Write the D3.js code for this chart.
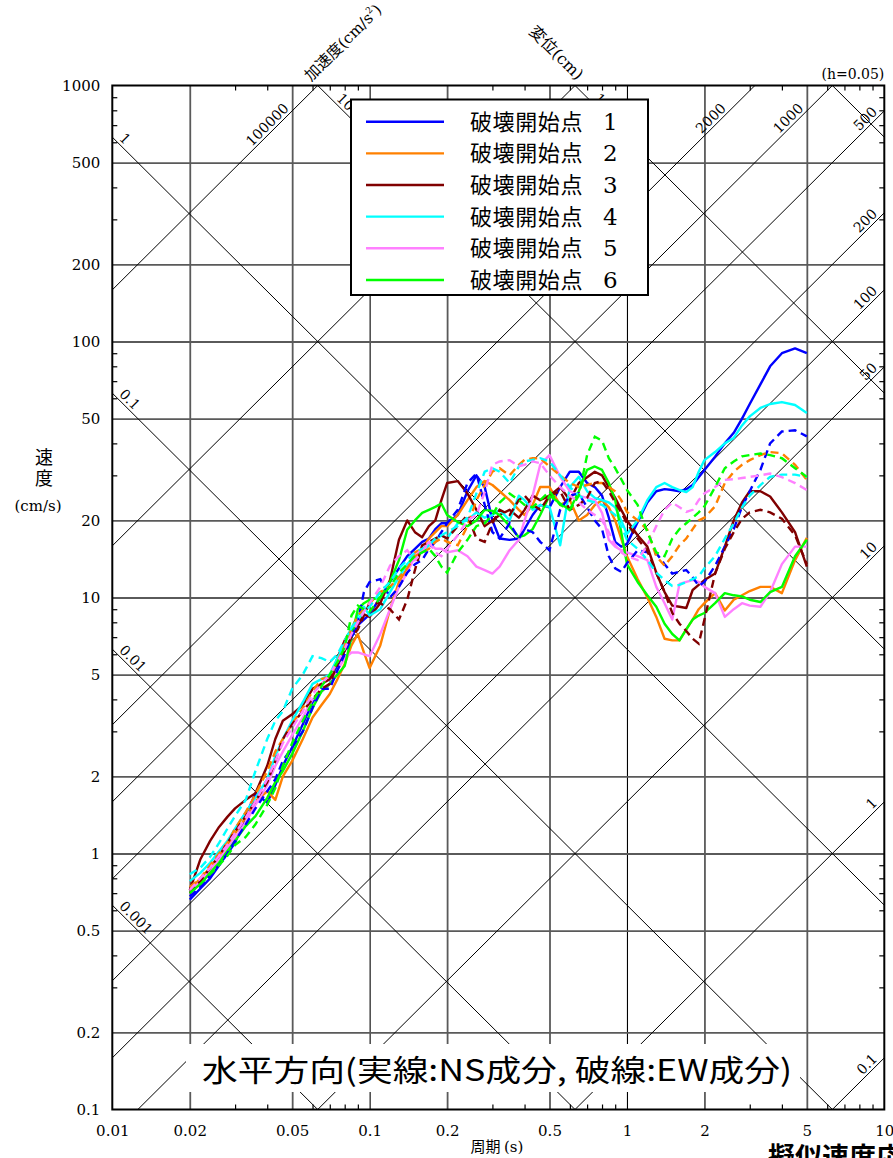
<!DOCTYPE html>
<html>
<head>
<meta charset="utf-8">
<script src="https://cdn.jsdelivr.net/npm/d3@7"></script>
<style>
  body { margin: 0; background: #fff; }
</style>
</head>
<body>
<svg id="chart"></svg>
<script>
// periods (s) shared by every series
var periods = [
  0.02, 0.022, 0.024, 0.026, 0.028, 0.03,
  0.033, 0.036, 0.04, 0.043, 0.046, 0.05,
  0.055, 0.06, 0.065, 0.07, 0.075, 0.08,
  0.085, 0.09, 0.095, 0.1, 0.11, 0.12,
  0.13, 0.14, 0.15, 0.16, 0.17, 0.18,
  0.19, 0.2, 0.22, 0.24, 0.26, 0.28,
  0.3, 0.32, 0.35, 0.38, 0.4, 0.43,
  0.46, 0.5, 0.55, 0.6, 0.65, 0.7,
  0.75, 0.8, 0.85, 0.9, 0.95, 1.0,
  1.1, 1.2, 1.3, 1.4, 1.5, 1.6,
  1.7, 1.8, 1.9, 2.0, 2.2, 2.4,
  2.6, 2.8, 3.0, 3.3, 3.6, 4.0,
  4.5, 5.0
];

// NS (solid) velocity, cm/s
var ns1 = [
  0.66, 0.73, 0.80, 0.90, 1.00, 1.10,
  1.40, 1.72, 1.58, 1.85, 2.20, 2.60,
  3.20, 3.90, 4.30, 4.60, 5.40, 6.20,
  7.00, 7.80, 8.20, 8.60, 10.0, 11.5,
  13.0, 14.5, 15.5, 16.5, 17.0, 18.5,
  19.5, 19.5, 21.0, 26.0, 30.0, 27.0,
  20.0, 17.0, 16.8, 17.0, 18.5, 21.0,
  23.0, 22.5, 27.0, 31.0, 31.0, 28.0,
  27.0, 25.0, 20.5, 16.5, 15.8, 16.2,
  19.7, 23.5, 26.0, 26.5, 26.3, 26.0,
  26.5, 27.5, 29.5, 31.5, 35.5, 40.0,
  44.0, 50.0, 57.0, 68.0, 80.0, 90.0,
  94.0, 90.0
];
var ns2 = [
  0.72, 0.80, 0.88, 0.98, 1.08, 1.20,
  1.38, 1.60, 1.75, 1.62, 2.00, 2.30,
  2.80, 3.40, 3.80, 4.20, 4.80, 5.50,
  6.50, 7.20, 6.10, 5.30, 6.50, 9.00,
  11.5, 13.0, 15.0, 15.5, 17.0, 18.0,
  19.0, 19.0, 21.0, 24.0, 27.0, 28.5,
  27.5, 26.0, 24.0, 22.0, 21.0, 23.0,
  27.0, 27.0, 23.0, 24.0, 20.0, 21.0,
  23.0, 24.0, 22.5, 20.0, 17.0, 14.5,
  11.8, 10.0, 8.40, 6.90, 6.80, 6.80,
  7.50, 8.20, 9.00, 9.50, 10.4, 8.90,
  9.80, 10.2, 10.6, 11.0, 11.0, 10.4,
  14.0, 17.1
];
var ns3 = [
  0.72, 0.95, 1.12, 1.27, 1.39, 1.50,
  1.62, 1.72, 2.20, 2.80, 3.30, 3.50,
  3.80, 4.40, 4.60, 4.80, 5.80, 6.80,
  7.50, 7.80, 8.60, 8.40, 9.50, 11.7,
  16.8, 20.0, 18.0, 17.2, 19.0, 20.0,
  24.0, 28.0, 28.5, 25.5, 22.0, 19.0,
  20.0, 21.0, 22.0, 20.5, 22.0, 25.0,
  24.0, 25.0, 27.0, 24.0, 28.0, 29.5,
  31.0, 30.0, 27.0, 24.5, 22.0, 20.0,
  17.5, 15.8, 12.5, 10.5, 9.30, 9.20,
  9.10, 10.7, 11.2, 11.7, 12.4, 15.8,
  20.0, 23.5, 26.0, 26.0, 24.8, 21.5,
  18.0, 13.2
];
var ns4 = [
  0.78, 0.84, 0.92, 1.02, 1.12, 1.25,
  1.45, 1.65, 1.95, 2.40, 2.80, 3.30,
  3.90, 4.60, 4.80, 5.00, 5.80, 6.60,
  7.60, 8.50, 9.20, 8.50, 9.00, 10.5,
  12.0, 13.5, 14.5, 15.0, 16.0, 16.8,
  17.5, 17.0, 19.5, 20.0, 21.5, 20.5,
  21.0, 22.0, 20.0, 25.0, 24.0, 22.0,
  23.0, 22.6, 16.0, 27.0, 29.6, 26.0,
  24.5, 24.0, 23.5, 22.5, 20.0, 17.7,
  20.0, 24.0, 27.0, 28.0, 27.0, 26.3,
  25.8, 27.0, 31.0, 34.4, 37.0, 40.0,
  42.0, 47.0, 51.0, 55.0, 57.0, 58.0,
  56.5, 52.6
];
var ns5 = [
  0.70, 0.78, 0.86, 0.95, 1.05, 1.15,
  1.32, 1.55, 1.85, 2.20, 2.50, 2.90,
  3.40, 4.00, 4.30, 4.60, 5.20, 5.80,
  6.10, 6.10, 6.00, 5.90, 7.20, 9.00,
  11.0, 12.5, 14.5, 15.5, 16.5, 15.5,
  15.5, 15.0, 15.3, 14.5, 13.2, 12.8,
  12.4, 13.2, 15.3, 16.8, 20.0, 25.0,
  33.0, 36.0, 29.6, 26.0, 25.0, 24.5,
  24.0, 21.4, 16.8, 15.8, 15.3, 15.0,
  14.5, 14.0, 11.0, 9.50, 8.20, 11.3,
  11.5, 11.7, 11.5, 11.0, 10.4, 8.40,
  9.00, 9.50, 9.30, 9.20, 10.5, 13.5,
  15.8, 15.8
];
var ns6 = [
  0.70, 0.76, 0.84, 0.92, 1.02, 1.12,
  1.28, 1.40, 1.65, 1.90, 2.10, 2.45,
  3.00, 3.70, 4.30, 4.60, 5.00, 5.40,
  7.00, 9.00, 9.50, 9.80, 10.0, 11.5,
  14.0, 18.4, 20.0, 21.4, 22.0, 22.6,
  23.3, 21.0, 19.7, 19.0, 20.0, 22.0,
  21.8, 21.0, 19.0, 17.2, 17.5, 18.5,
  21.0, 25.0, 23.3, 22.0, 26.0, 31.5,
  32.5, 31.5, 28.0, 24.0, 18.0, 13.5,
  11.5, 10.2, 9.20, 7.90, 7.20, 6.80,
  7.50, 8.20, 8.50, 8.70, 9.50, 10.4,
  10.2, 10.1, 9.80, 9.60, 10.5, 11.0,
  14.5, 16.8
];

// EW (dashed) velocity, cm/s
var ew1 = [
  0.68, 0.74, 0.82, 0.90, 1.00, 1.12,
  1.30, 1.50, 1.75, 1.95, 2.30, 2.60,
  3.00, 3.70, 4.40, 4.40, 5.20, 6.00,
  7.00, 8.00, 10.5, 11.5, 11.8, 10.0,
  11.0, 12.5, 13.5, 14.0, 15.5, 16.5,
  18.0, 19.5, 22.0, 28.0, 30.5, 23.0,
  18.0, 17.0, 19.5, 17.0, 18.5, 18.0,
  16.5, 15.3, 22.0, 25.0, 25.5, 22.5,
  20.0, 18.5, 14.5, 13.0, 12.6, 13.6,
  15.3, 15.0, 14.9, 13.5, 12.4, 12.6,
  12.8, 12.0, 11.1, 11.5, 13.3, 15.8,
  18.5, 22.6, 26.0, 31.5, 40.0, 44.5,
  45.0, 42.6
];
var ew2 = [
  0.74, 0.80, 0.90, 1.00, 1.10, 1.25,
  1.45, 1.70, 2.10, 2.50, 2.80, 3.20,
  3.70, 4.30, 4.80, 4.90, 5.60, 6.50,
  7.50, 8.50, 9.00, 9.50, 10.5, 11.0,
  12.0, 13.0, 14.5, 15.0, 15.5, 16.5,
  17.0, 16.5, 16.0, 19.0, 24.0, 27.5,
  31.0, 32.0, 30.0, 33.0, 34.5, 35.0,
  35.0, 32.5, 30.0, 28.0, 27.0, 27.5,
  28.0, 28.0, 27.0, 26.0, 24.0, 21.6,
  20.0, 18.4, 14.5, 13.3, 14.5, 16.0,
  17.0, 18.5, 20.0, 20.5, 22.7, 28.0,
  31.0, 33.0, 34.4, 36.0, 37.0, 36.6,
  33.0, 28.8
];
var ew3 = [
  0.70, 0.78, 0.88, 0.98, 1.10, 1.22,
  1.40, 1.60, 1.90, 2.30, 2.80, 3.20,
  3.60, 4.00, 4.40, 4.60, 5.50, 6.20,
  7.00, 7.50, 8.50, 9.50, 9.50, 9.00,
  8.20, 9.80, 12.8, 16.0, 16.5, 17.0,
  17.5, 17.0, 19.0, 21.0, 17.0, 16.5,
  19.5, 22.0, 21.0, 24.0, 25.0, 23.0,
  22.0, 25.0, 26.0, 22.0, 23.0, 24.5,
  28.0, 28.5, 26.0, 23.5, 21.5, 19.5,
  17.0, 15.2, 12.5, 10.5, 8.70, 7.90,
  7.40, 6.90, 6.60, 8.20, 12.4, 15.5,
  18.0, 20.3, 21.5, 22.0, 21.5, 20.3,
  17.5, 13.5
];
var ew4 = [
  0.83, 0.88, 0.97, 1.10, 1.25, 1.40,
  1.62, 2.10, 2.80, 3.30, 3.60, 4.40,
  5.00, 5.90, 5.80, 5.60, 6.00, 6.80,
  7.60, 8.20, 8.80, 9.20, 10.5, 11.5,
  13.0, 14.0, 15.0, 15.5, 16.0, 17.0,
  17.5, 18.0, 19.0, 20.5, 25.5, 31.0,
  32.0, 31.0, 28.0, 32.5, 34.0, 34.5,
  35.0, 34.0, 30.0, 27.0, 25.0, 24.0,
  23.5, 23.0, 22.0, 21.0, 19.0, 16.8,
  15.5, 14.0, 12.5, 11.7, 11.1, 11.2,
  11.5, 11.8, 12.1, 13.0, 14.5, 17.0,
  19.5, 22.5, 25.0, 27.5, 29.6, 30.2,
  30.2, 29.6
];
var ew5 = [
  0.72, 0.80, 0.88, 0.98, 1.08, 1.20,
  1.38, 1.60, 1.95, 2.30, 2.70, 3.10,
  3.60, 4.20, 4.60, 5.00, 5.60, 6.30,
  7.20, 8.00, 8.80, 9.50, 11.0, 13.3,
  14.5, 15.3, 14.0, 15.0, 16.5, 15.0,
  14.5, 15.5, 17.5, 20.0, 21.0, 25.8,
  33.0, 34.0, 34.4, 32.6, 33.0, 34.0,
  33.5, 30.0, 27.0, 25.0, 23.5, 22.0,
  21.0, 20.0, 18.0, 16.0, 15.0, 14.5,
  14.0, 16.0, 19.0, 22.0, 23.5, 22.5,
  21.6, 22.0, 24.0, 25.5, 27.0, 28.8,
  29.0, 29.3, 29.6, 30.0, 30.5, 29.5,
  28.0, 26.3
];
var ew6 = [
  0.70, 0.76, 0.83, 0.90, 0.98, 1.08,
  1.16, 1.30, 1.55, 1.80, 2.20, 2.70,
  3.30, 3.90, 4.50, 5.00, 5.60, 6.40,
  8.50, 9.30, 9.00, 8.80, 10.0, 11.0,
  12.5, 13.5, 14.5, 15.0, 15.5, 14.5,
  13.2, 12.5, 15.0, 16.8, 19.0, 19.5,
  21.0, 23.5, 25.5, 24.0, 23.0, 22.5,
  24.0, 26.0, 23.0, 22.0, 25.0, 36.0,
  42.5, 41.0, 35.0, 32.0, 29.0, 26.3,
  23.0, 18.0, 15.0, 14.5, 17.0, 18.5,
  19.5, 20.5, 21.5, 22.7, 27.0, 32.0,
  34.0, 35.6, 36.0, 36.5, 36.0, 35.0,
  32.0, 29.6
];

var seriesNames = ["破壊開始点", "破壊開始点", "破壊開始点", "破壊開始点", "破壊開始点", "破壊開始点"];
var seriesNumbers = ["1", "2", "3", "4", "5", "6"];
var seriesColors = ["#0000ff", "#ff8000", "#800000", "#00ffff", "#ff80ff", "#00ff00"];
var nsSeries = [ns1, ns2, ns3, ns4, ns5, ns6];
var ewSeries = [ew1, ew2, ew3, ew4, ew5, ew6];

// tripartite guide lines
var accelLines = [0.1, 1, 10, 50, 100, 200, 500, 1000, 2000, 10000, 100000];
var dispLines = [0.001, 0.01, 0.1, 1, 10, 100, 1000];
var dispLabelled = [0.001, 0.01, 0.1, 1, 10, 100];

var xTickValues = [0.01, 0.02, 0.05, 0.1, 0.2, 0.5, 1, 2, 5, 10];
var xTickLabels = ["0.01", "0.02", "0.05", "0.1", "0.2", "0.5", "1", "2", "5", "10"];
var yTickValues = [0.1, 0.2, 0.5, 1, 2, 5, 10, 20, 50, 100, 200, 500, 1000];
var yTickLabels = ["0.1", "0.2", "0.5", "1", "2", "5", "10", "20", "50", "100", "200", "500", "1000"];
var gridX = [0.02, 0.05, 0.1, 0.2, 0.5, 1, 2, 5];
var gridY = [0.2, 0.5, 1, 2, 5, 10, 20, 50, 100, 200, 500];

var w = 893, h = 1158;
var plotL = 112.3, plotR = 884.3, plotT = 85.5, plotB = 1109.5;
var serif = "'DejaVu Serif', 'Liberation Serif', serif";
var jp = "'Noto Sans CJK JP', 'Noto Sans', sans-serif";

var x = d3.scaleLog().domain([0.01, 10]).range([plotL, plotR]);
var y = d3.scaleLog().domain([0.1, 1000]).range([plotB, plotT]);

var svg = d3.select("#chart").attr("width", w).attr("height", h);
svg.append("rect").attr("width", w).attr("height", h).attr("fill", "#fff");

svg.append("defs").append("clipPath").attr("id", "plotClip")
    .append("rect")
    .attr("x", plotL).attr("y", plotT)
    .attr("width", plotR - plotL).attr("height", plotB - plotT);

// grid lines
svg.append("g")
    .attr("transform", "translate(0," + plotB + ")")
    .call(d3.axisBottom(x).tickValues(gridX).tickSize(-(plotB - plotT)).tickFormat(""))
    .call(function(g) { g.select(".domain").remove(); })
    .call(function(g) {
        g.selectAll("line")
            .attr("stroke", function(d) { return (d === 0.1 || d === 1) ? "#000" : "#5a5a5a"; })
            .attr("stroke-width", function(d) { return (d === 0.1 || d === 1) ? 1.1 : 1.8; });
    });

svg.append("g")
    .attr("transform", "translate(" + plotL + ",0)")
    .call(d3.axisLeft(y).tickValues(gridY).tickSize(-(plotR - plotL)).tickFormat(""))
    .call(function(g) { g.select(".domain").remove(); })
    .call(function(g) { g.selectAll("line").attr("stroke", "#5a5a5a").attr("stroke-width", 1.8); });

// minor ticks on all four sides
var minorX = [], minorY = [];
[0.01, 0.1, 1].forEach(function(d) { [3, 4, 6, 7, 8, 9].forEach(function(m) { minorX.push(+(d * m).toPrecision(3)); }); });
[0.1, 1, 10, 100].forEach(function(d) { [3, 4, 6, 7, 8, 9].forEach(function(m) { minorY.push(+(d * m).toPrecision(3)); }); });

function tickStyle(g) {
    g.select(".domain").remove();
    g.selectAll("line").attr("stroke", "#000").attr("stroke-width", 1.2);
}
svg.append("g").attr("transform", "translate(0," + plotB + ")")
    .call(d3.axisBottom(x).tickValues(minorX).tickSize(-5).tickFormat("")).call(tickStyle);
svg.append("g").attr("transform", "translate(0," + plotT + ")")
    .call(d3.axisTop(x).tickValues(minorX).tickSize(-5).tickFormat("")).call(tickStyle);
svg.append("g").attr("transform", "translate(" + plotL + ",0)")
    .call(d3.axisLeft(y).tickValues(minorY).tickSize(-5).tickFormat("")).call(tickStyle);
svg.append("g").attr("transform", "translate(" + plotR + ",0)")
    .call(d3.axisRight(y).tickValues(minorY).tickSize(-5).tickFormat("")).call(tickStyle);

// diagonal lines: acceleration rises, displacement falls
var twoPi = 2 * Math.PI;
var diagG = svg.append("g").attr("clip-path", "url(#plotClip)");
var diagLine = d3.line().x(function(p) { return x(p[0]); }).y(function(p) { return y(p[1]); });

accelLines.forEach(function(a) {
    diagG.append("path")
        .attr("d", diagLine([[0.01, a * 0.01 / twoPi], [10, a * 10 / twoPi]]))
        .attr("fill", "none").attr("stroke", "#000").attr("stroke-width", 1);
});
dispLines.forEach(function(dd) {
    diagG.append("path")
        .attr("d", diagLine([[0.01, twoPi * dd / 0.01], [10, twoPi * dd / 10]]))
        .attr("fill", "none").attr("stroke", "#000").attr("stroke-width", 1);
});

var angA = Math.atan2(y(10) - y(1), x(10) - x(1)) * 180 / Math.PI;
var angD = Math.atan2(y(0.1) - y(1), x(10) - x(1)) * 180 / Math.PI;

function fmt(v) { return String(v); }

var labelG = svg.append("g").attr("font-family", serif).attr("font-size", "14px").attr("fill", "#000");
accelLines.forEach(function(a) {
    var tTop = twoPi * 1000 / a;
    var px = tTop >= 10 ? plotR - 4 : x(tTop) - 26;
    var t = x.invert(px);
    var py = y(a * t / twoPi);
    labelG.append("text")
        .attr("transform", "translate(" + px + "," + py + ") rotate(" + angA + ")")
        .attr("text-anchor", "end")
        .attr("dy", "-3")
        .text(fmt(a));
});
dispLabelled.forEach(function(dd) {
    var tEnter = Math.max(0.01, twoPi * dd / 1000);
    var px = tEnter <= 0.01 ? plotL + 4 : x(tEnter) + 16;
    var t = x.invert(px);
    var py = y(twoPi * dd / t);
    labelG.append("text")
        .attr("transform", "translate(" + px + "," + py + ") rotate(" + angD + ")")
        .attr("text-anchor", "start")
        .attr("dy", "-3")
        .text(fmt(dd));
});

// axis names on the diagonals
var accText = svg.append("text")
    .attr("transform", "translate(311,82) rotate(" + angA + ")")
    .attr("font-size", "15.5px").attr("fill", "#000");
accText.append("tspan").attr("font-family", jp).text("加速度");
accText.append("tspan").attr("font-family", serif).text("(cm/s");
accText.append("tspan").attr("font-family", serif).attr("font-size", "9px").attr("dy", "-7").text("2");
accText.append("tspan").attr("font-family", serif).attr("dy", "7").text(")");

var dispText = svg.append("text")
    .attr("transform", "translate(577,81) rotate(" + (-angA) + ")")
    .attr("text-anchor", "end")
    .attr("font-size", "16px").attr("fill", "#000");
dispText.append("tspan").attr("font-family", jp).text("変位");
dispText.append("tspan").attr("font-family", serif).text("(cm)");

// response spectra
var curveG = svg.append("g").attr("clip-path", "url(#plotClip)");
var line = d3.line()
    .x(function(d, i) { return x(periods[i]); })
    .y(function(d) { return y(d); });

nsSeries.forEach(function(vals, i) {
    curveG.append("path")
        .attr("d", line(vals))
        .attr("fill", "none")
        .attr("stroke", seriesColors[i])
        .attr("stroke-width", 2.4)
        .attr("stroke-linejoin", "round");
});
ewSeries.forEach(function(vals, i) {
    curveG.append("path")
        .attr("d", line(vals))
        .attr("fill", "none")
        .attr("stroke", seriesColors[i])
        .attr("stroke-width", 2.4)
        .attr("stroke-dasharray", "8,5");
});

// frame
svg.append("rect")
    .attr("x", plotL).attr("y", plotT)
    .attr("width", plotR - plotL).attr("height", plotB - plotT)
    .attr("fill", "none").attr("stroke", "#000").attr("stroke-width", 2);

// tick labels
svg.append("g")
    .attr("transform", "translate(0," + plotB + ")")
    .call(d3.axisBottom(x).tickValues(xTickValues).tickSize(0).tickPadding(16)
        .tickFormat(function(d, i) { return xTickLabels[i]; }))
    .call(function(g) {
        g.select(".domain").remove();
        g.selectAll("text").attr("font-family", serif).attr("font-size", "15px").attr("fill", "#000");
    });
svg.append("g")
    .attr("transform", "translate(" + plotL + ",0)")
    .call(d3.axisLeft(y).tickValues(yTickValues).tickSize(0).tickPadding(12)
        .tickFormat(function(d, i) { return yTickLabels[i]; }))
    .call(function(g) {
        g.select(".domain").remove();
        g.selectAll("text").attr("font-family", serif).attr("font-size", "15px").attr("fill", "#000");
    });

// axis titles
svg.append("text").attr("x", 44).attr("y", 464).attr("text-anchor", "middle")
    .attr("font-family", jp).attr("font-size", "18px").text("速");
svg.append("text").attr("x", 44).attr("y", 485).attr("text-anchor", "middle")
    .attr("font-family", jp).attr("font-size", "18px").text("度");
svg.append("text").attr("x", 38).attr("y", 511).attr("text-anchor", "middle")
    .attr("font-family", serif).attr("font-size", "15px").text("(cm/s)");

var xTitle = svg.append("text").attr("x", 497).attr("y", 1152).attr("text-anchor", "middle")
    .attr("font-size", "15px");
xTitle.append("tspan").attr("font-family", jp).text("周期 ");
xTitle.append("tspan").attr("font-family", serif).text("(s)");

svg.append("text").attr("x", plotR).attr("y", 79).attr("text-anchor", "end")
    .attr("font-family", serif).attr("font-size", "14px").text("(h=0.05)");

// legend
var legend = svg.append("g");
legend.append("rect")
    .attr("x", 351).attr("y", 99.5).attr("width", 297).attr("height", 195.5)
    .attr("fill", "#fff").attr("stroke", "#000").attr("stroke-width", 2);
seriesNames.forEach(function(name, i) {
    var ly = 121.7 + i * 31.65;
    legend.append("line")
        .attr("x1", 366).attr("x2", 444).attr("y1", ly).attr("y2", ly)
        .attr("stroke", seriesColors[i]).attr("stroke-width", 2.4);
    legend.append("text")
        .attr("x", 470).attr("y", ly + 8)
        .attr("font-family", jp).attr("font-size", "22px")
        .attr("letter-spacing", "0.6px").attr("fill", "#000")
        .text(name);
    legend.append("text")
        .attr("x", 603).attr("y", ly + 8)
        .attr("font-family", serif).attr("font-size", "23px").attr("fill", "#000")
        .text(seriesNumbers[i]);
});

// caption box at the bottom
svg.append("rect")
    .attr("x", 186).attr("y", 1044).attr("width", 614).attr("height", 48)
    .attr("fill", "#fff");
svg.append("text")
    .attr("x", 202).attr("y", 1081)
    .attr("font-family", jp).attr("font-size", "30px").attr("fill", "#000")
    .attr("textLength", 590).attr("lengthAdjust", "spacingAndGlyphs")
    .text("水平方向(実線:NS成分, 破線:EW成分)");

svg.append("text")
    .attr("x", 768).attr("y", 1167)
    .attr("font-family", jp).attr("font-size", "27px").attr("font-weight", "bold").attr("fill", "#000")
    .text("擬似速度応答スペクトル");
</script>
</body>
</html>
